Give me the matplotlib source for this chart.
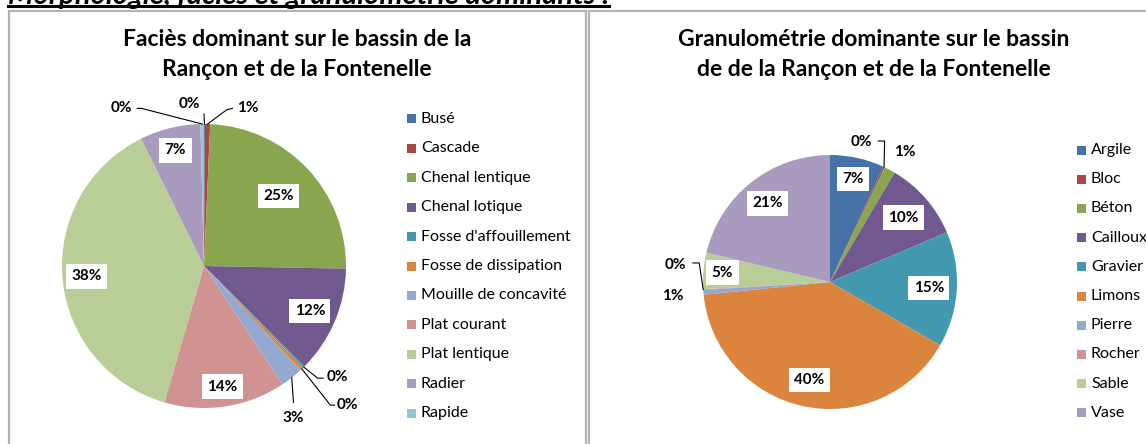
import numpy as np
import matplotlib
matplotlib.use("Agg")
import matplotlib.pyplot as plt
from matplotlib.patches import Rectangle
from matplotlib.lines import Line2D

plt.rcParams["font.family"] = ["Lato", "DejaVu Sans"]

# --- data ---
facies = ["Busé", "Cascade", "Chenal lentique", "Chenal lotique",
          "Fosse d'affouillement", "Fosse de dissipation",
          "Mouille de concavité", "Plat courant", "Plat lentique",
          "Radier", "Rapide"]
facies_pct = [0.1, 0.6, 24.6, 12.2, 0.2, 0.4, 2.6, 13.8, 38.2, 6.9, 0.4]

granulo = ["Argile", "Bloc", "Béton", "Cailloux", "Gravier", "Limons",
           "Pierre", "Rocher", "Sable", "Vase"]
granulo_pct = [6.9, 0.2, 1.4, 10.1, 14.7, 40.1, 0.6, 0.1, 4.6, 21.3]

palette = ["#4572A7", "#AA4643", "#89A54E", "#71588F", "#4198AF",
           "#DB843D", "#93A9CF", "#D19392", "#B9CD96", "#A99BBD", "#92C5D6"]

W, H = 1146, 444
fig = plt.figure(figsize=(W / 100, H / 100), dpi=100)


def fx(px):
    return px / W


def fy(py):
    return 1 - py / H


def pie_axes(cx, cy, r):
    half = 220
    ax = fig.add_axes([fx(cx - half), fy(cy + half), 2 * half / W, 2 * half / H])
    ax.set_axis_off()
    return ax, half / r


def draw_pie(cx, cy, r, values, inside, outside):
    ax, lim = pie_axes(cx, cy, r)
    wedges, _ = ax.pie(values, colors=palette[:len(values)], startangle=90,
                       counterclock=False, radius=1,
                       wedgeprops=dict(linewidth=0))
    ax.set_xlim(-lim, lim)
    ax.set_ylim(-lim, lim)
    box = dict(boxstyle="square,pad=0.35", fc="white", ec="none")
    for i, (w, v) in enumerate(zip(wedges, values)):
        ang = np.deg2rad((w.theta1 + w.theta2) / 2)
        txt = f"{v:.0f}%"
        if i in inside:
            d = inside[i]
            ax.text(d * np.cos(ang), d * np.sin(ang), txt, ha="center",
                    va="center", fontsize=11, fontweight="bold", bbox=box)
        elif i in outside:
            tx, ty, path = outside[i]
            ax.text(tx, ty, txt, ha="center", va="center", fontsize=11,
                    fontweight="bold")
            if path:
                xs = [np.cos(ang)] + [p[0] for p in path]
                ys = [np.sin(ang)] + [p[1] for p in path]
                ax.add_line(Line2D(xs, ys, color="black", lw=0.8))
    return ax


def draw_legend(x, y0, step, labels):
    for i, lab in enumerate(labels):
        y = y0 + i * step
        fig.patches.append(Rectangle((fx(x), fy(y + 4.5)), 9 / W, 9 / H,
                                     transform=fig.transFigure,
                                     fc=palette[i], ec="none"))
        fig.text(fx(x + 14), fy(y), lab, ha="left", va="center",
                 fontsize=11.5)


# panel frames
for x0, x1 in [(9, 586), (589, 1150)]:
    fig.patches.append(Rectangle((fx(x0), fy(450)), (x1 - x0) / W, 439 / H,
                                 transform=fig.transFigure, fc="none",
                                 ec="#b4b4b4", lw=1.6))

# section heading, only its lower part shows
head = fig.text(fx(8), fy(4), "Morphologie, faciès et granulométrie dominants :",
                ha="left", va="baseline", fontsize=21, fontweight="bold",
                fontstyle="italic")
fig.canvas.draw()
bb = head.get_window_extent()
fig.add_artist(Line2D([bb.x0 / W, bb.x1 / W], [fy(6.5)] * 2, color="black",
                      lw=2.2, transform=fig.transFigure))

# chart titles
for cx, lines in [(297, ["Faciès dominant sur le bassin de la",
                         "Rançon et de la Fontenelle"]),
                  (874, ["Granulométrie dominante sur le bassin",
                         "de de la Rançon et de la Fontenelle"])]:
    for k, line in enumerate(lines):
        fig.text(fx(cx), fy(40 + 30 * k), line, ha="center", va="center",
                 fontsize=16.5, fontweight="bold")

# faciès pie
draw_pie(204, 266, 142, facies_pct,
         inside={2: 0.72, 3: 0.81, 7: 0.86, 8: 0.83, 9: 0.84},
         outside={0: (-0.10, 1.14, [(0.0, 1.07)]),
                  1: (0.31, 1.11, [(0.16, 1.10), (0.20, 1.11)]),
                  10: (-0.58, 1.11, [(-0.44, 1.11), (-0.47, 1.11)]),
                  4: (0.94, -0.78, [(0.80, -0.79), (0.84, -0.79)]),
                  5: (1.01, -0.98, [(0.89, -0.98), (0.92, -0.98)]),
                  6: (0.63, -1.07, [(0.63, -0.96)])})
draw_legend(407, 119, 29.4, facies)

# granulométrie pie
draw_pie(830, 282, 127, granulo_pct,
         inside={0: 0.83, 3: 0.77, 4: 0.78, 5: 0.79, 8: 0.85, 9: 0.79},
         outside={1: (0.25, 1.10, [(0.43, 1.11), (0.38, 1.11)]),
                  2: (0.59, 1.02, []),
                  7: (-1.22, 0.13, [(-1.03, 0.15), (-1.08, 0.15)]),
                  6: (-1.24, -0.11, [])})
draw_legend(1077, 150, 29.2, granulo)

fig.savefig("out.png", dpi=100)
